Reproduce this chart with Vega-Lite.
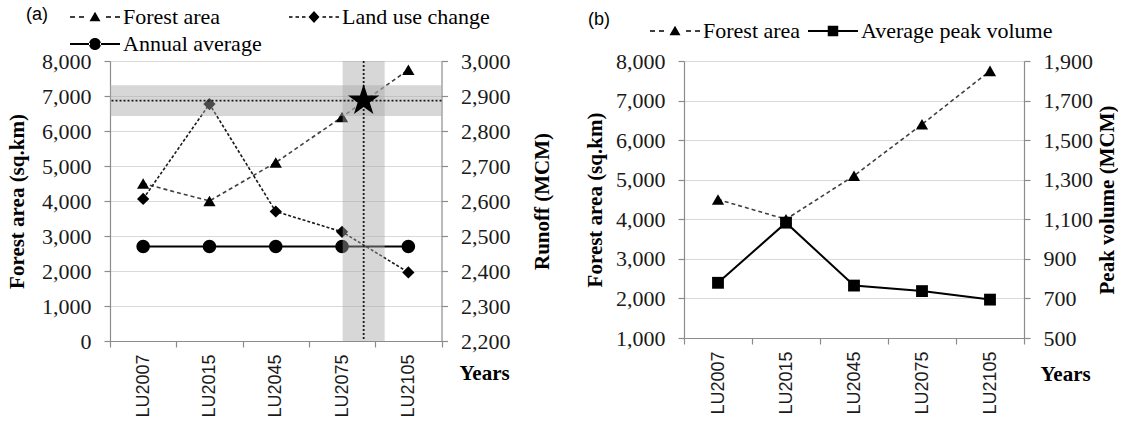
{
  "$schema": "https://vega.github.io/schema/vega-lite/v6.json",
  "padding": {"left": 6, "top": 6, "right": 0, "bottom": 0},
  "background": "white",
  "config": {
    "view": {"stroke": null},
    "font": "Liberation Serif",
    "axis": {
      "domainColor": "#8c8c8c", "tickColor": "#8c8c8c", "gridColor": "#d9d9d9",
      "labelColor": "#1a1a1a", "titleColor": "#000000",
      "labelFont": "Liberation Serif", "titleFont": "Liberation Serif", "titleFontWeight": "bold",
      "labelFontSize": 22, "titleFontSize": 21, "tickSize": 6, "domainWidth": 1.2, "tickWidth": 1.2,
      "labelOverlap": false
    }
  },
  "datasets": {
    "a": [
      {"year": "LU2007", "forest": 4500, "landuse": 2606, "annual": 2470},
      {"year": "LU2015", "forest": 4000, "landuse": 2877, "annual": 2470},
      {"year": "LU2045", "forest": 5100, "landuse": 2570, "annual": 2470},
      {"year": "LU2075", "forest": 6400, "landuse": 2512, "annual": 2470},
      {"year": "LU2105", "forest": 7750, "landuse": 2396, "annual": 2470}
    ],
    "thr": [{"year": "LU2075", "runoff": 2887, "low": 2843, "high": 2931}],
    "b": [
      {"year": "LU2007", "forest": 4500, "peak": 779},
      {"year": "LU2015", "forest": 4000, "peak": 1083},
      {"year": "LU2045", "forest": 5100, "peak": 765},
      {"year": "LU2075", "forest": 6400, "peak": 737},
      {"year": "LU2105", "forest": 7750, "peak": 694}
    ],
    "legA": [{"seriesA": "Forest area"}, {"seriesA": "Land use change"}, {"seriesA": "Annual average"}],
    "legB": [{"seriesB": "Forest area"}, {"seriesB": "Average peak volume"}]
  },
  "spacing": 32,
  "resolve": {"scale": {"shape": "independent"}, "legend": {"shape": "independent"}},
  "hconcat": [
    {
      "width": 331.5,
      "height": 280,
      "resolve": {"scale": {"y": "independent"}},
      "layer": [
        {
          "data": {"name": "a"},
          "layer": [
            {
              "mark": {"type": "line", "strokeDash": [4, 3], "color": "#404040", "strokeWidth": 1.6},
              "encoding": {
                "x": {"field": "year", "type": "nominal", "scale": {"type": "band", "paddingInner": 0, "paddingOuter": 0},
                  "axis": {"title": "Years", "tickBand": "extent", "labelAngle": 270, "labelFont": "Liberation Sans", "labelFontSize": 18, "labelPadding": 7, "titleX": 349, "titleY": 32, "titleAlign": "left", "titleBaseline": "middle", "titleAnchor": "start", "grid": false, "labelOverlap": false}},
                "y": {"field": "forest", "type": "quantitative", "title": "Forest area (sq.km)", "scale": {"domain": [0, 8000], "nice": false, "zero": false},
                  "axis": {"orient": "left", "values": [0, 1000, 2000, 3000, 4000, 5000, 6000, 7000, 8000], "tickCount": 30, "format": ",d", "grid": true, "labelPadding": 13, "titlePadding": 14, "labelOverlap": false}}
              }
            },
            {
              "mark": {"type": "point", "shape": "triangle-up", "filled": true, "color": "#000000", "size": 150, "opacity": 1},
              "encoding": {
                "x": {"field": "year", "type": "nominal"},
                "y": {"field": "forest", "type": "quantitative", "title": "Forest area (sq.km)", "scale": {"domain": [0, 8000], "nice": false, "zero": false}}
              }
            }
          ]
        },
        {
          "layer": [
            {
              "data": {"name": "a"},
              "mark": {"type": "line", "strokeDash": [3, 2], "color": "#1a1a1a", "strokeWidth": 1.6},
              "encoding": {
                "x": {"field": "year", "type": "nominal"},
                "y": {"field": "landuse", "type": "quantitative", "title": "Runoff (MCM)", "scale": {"domain": [2200, 3000], "nice": false, "zero": false},
                  "axis": {"orient": "right", "values": [2200, 2300, 2400, 2500, 2600, 2700, 2800, 2900, 3000], "tickCount": 30, "format": ",d", "grid": false, "labelPadding": 13, "titlePadding": 42, "titleAngle": 270, "labelOverlap": false}}
              }
            },
            {
              "data": {"name": "a"},
              "mark": {"type": "point", "shape": "diamond", "filled": true, "color": "#000000", "size": 150, "opacity": 1},
              "encoding": {
                "x": {"field": "year", "type": "nominal"},
                "y": {"field": "landuse", "type": "quantitative", "title": "Runoff (MCM)", "scale": {"domain": [2200, 3000], "nice": false, "zero": false}}
              }
            },
            {
              "data": {"name": "a"},
              "mark": {"type": "line", "color": "#000000", "strokeWidth": 2},
              "encoding": {
                "x": {"field": "year", "type": "nominal"},
                "y": {"field": "annual", "type": "quantitative", "title": "Runoff (MCM)", "scale": {"domain": [2200, 3000], "nice": false, "zero": false}}
              }
            },
            {
              "data": {"name": "a"},
              "mark": {"type": "point", "shape": "circle", "filled": true, "color": "#000000", "size": 185, "opacity": 1},
              "encoding": {
                "x": {"field": "year", "type": "nominal"},
                "y": {"field": "annual", "type": "quantitative", "title": "Runoff (MCM)", "scale": {"domain": [2200, 3000], "nice": false, "zero": false}}
              }
            },
            {
              "data": {"name": "thr"},
              "mark": {"type": "rect", "color": "#a6a6a6", "opacity": 0.45},
              "encoding": {
                "y": {"field": "low", "type": "quantitative", "title": "Runoff (MCM)", "scale": {"domain": [2200, 3000], "nice": false, "zero": false}},
                "y2": {"field": "high"}
              }
            },
            {
              "data": {"name": "thr"},
              "mark": {"type": "rule", "color": "#a6a6a6", "opacity": 0.45, "strokeWidth": 42, "strokeCap": "butt"},
              "encoding": {
                "x": {"field": "year", "type": "nominal", "bandPosition": 0.826}
              }
            },
            {
              "data": {"name": "thr"},
              "mark": {"type": "rule", "color": "#1a1a1a", "strokeWidth": 1.8, "strokeDash": [2, 2]},
              "encoding": {
                "y": {"field": "runoff", "type": "quantitative", "title": "Runoff (MCM)", "scale": {"domain": [2200, 3000], "nice": false, "zero": false}}
              }
            },
            {
              "data": {"name": "thr"},
              "mark": {"type": "rule", "color": "#1a1a1a", "strokeWidth": 1.8, "strokeDash": [2, 2]},
              "encoding": {
                "x": {"field": "year", "type": "nominal", "bandPosition": 0.826}
              }
            },
            {
              "data": {"name": "thr"},
              "mark": {"type": "point", "shape": "M0,-1L0.2245,-0.309L0.9511,-0.309L0.3633,0.118L0.5878,0.809L0,0.382L-0.5878,0.809L-0.3633,0.118L-0.9511,-0.309L-0.2245,-0.309Z", "filled": true, "color": "#000000", "size": 1100, "opacity": 1},
              "encoding": {
                "x": {"field": "year", "type": "nominal", "bandPosition": 0.826},
                "y": {"field": "runoff", "type": "quantitative", "title": "Runoff (MCM)", "scale": {"domain": [2200, 3000], "nice": false, "zero": false}}
              }
            },
            {
              "data": {"name": "legA"},
              "mark": {"type": "point", "filled": true, "opacity": 0, "color": "#000000", "size": 2500},
              "encoding": {
                "shape": {
                  "field": "seriesA", "type": "nominal",
                  "scale": {
                    "domain": ["Forest area", "Land use change", "Annual average"],
                    "range": [
                      "M-1,-0.03H-0.8V0.03H-1ZM-0.64,-0.03H-0.44V0.03H-0.64ZM0.44,-0.03H0.64V0.03H0.44ZM0.8,-0.03H1V0.03H0.8ZM0,-0.21L0.22,0.17L-0.22,0.17Z",
                      "M-1,-0.03H-0.86V0.03H-1ZM-0.74,-0.03H-0.6V0.03H-0.74ZM-0.48,-0.03H-0.34V0.03H-0.48ZM0.34,-0.03H0.48V0.03H0.34ZM0.6,-0.03H0.74V0.03H0.6ZM0.86,-0.03H1V0.03H0.86ZM0,-0.24L0.22,0L0,0.24L-0.22,0Z",
                      "M-1,-0.04H-0.2V0.04H-1ZM0.2,-0.04H1V0.04H0.2ZM-0.24,0A0.24,0.24,0,1,0,0.24,0A0.24,0.24,0,1,0,-0.24,0Z"
                    ]
                  },
                  "legend": {
                    "orient": "none", "legendX": -84, "legendY": -55, "direction": "horizontal",
                    "title": "(a)", "titleOrient": "left", "titleAnchor": "start", "titleFont": "Liberation Sans", "titleFontSize": 18, "titleFontWeight": "normal", "titleColor": "#000000", "titlePadding": 22, "titleBaseline": "top",
                    "columns": 2, "columnPadding": 27, "rowPadding": 5,
                    "symbolSize": 2500, "symbolStrokeWidth": 0, "symbolFillColor": "#000000", "symbolOpacity": 1,
                    "clipHeight": 22,
                    "labelFont": "Liberation Serif", "labelFontSize": 22, "labelColor": "#000000", "labelOffset": 3, "labelLimit": 300
                  }
                }
              }
            }
          ]
        }
      ]
    },
    {
      "width": 340,
      "height": 277,
      "resolve": {"scale": {"y": "independent"}},
      "layer": [
        {
          "data": {"name": "b"},
          "layer": [
            {
              "mark": {"type": "line", "strokeDash": [4, 3], "color": "#404040", "strokeWidth": 1.6},
              "encoding": {
                "x": {"field": "year", "type": "nominal", "scale": {"type": "band", "paddingInner": 0, "paddingOuter": 0},
                  "axis": {"title": "Years", "tickBand": "extent", "labelAngle": 270, "labelFont": "Liberation Sans", "labelFontSize": 18, "labelPadding": 7, "titleX": 356, "titleY": 36, "titleAlign": "left", "titleBaseline": "middle", "titleAnchor": "start", "grid": false, "labelOverlap": false}},
                "y": {"field": "forest", "type": "quantitative", "title": "Forest area (sq.km)", "scale": {"domain": [1000, 8000], "nice": false, "zero": false},
                  "axis": {"orient": "left", "values": [1000, 2000, 3000, 4000, 5000, 6000, 7000, 8000], "tickCount": 30, "format": ",d", "grid": true, "labelPadding": 13, "titlePadding": 10, "labelOverlap": false}}
              }
            },
            {
              "mark": {"type": "point", "shape": "triangle-up", "filled": true, "color": "#000000", "size": 150, "opacity": 1},
              "encoding": {
                "x": {"field": "year", "type": "nominal"},
                "y": {"field": "forest", "type": "quantitative", "title": "Forest area (sq.km)", "scale": {"domain": [1000, 8000], "nice": false, "zero": false}}
              }
            }
          ]
        },
        {
          "layer": [
            {
              "data": {"name": "b"},
              "mark": {"type": "line", "color": "#000000", "strokeWidth": 2},
              "encoding": {
                "x": {"field": "year", "type": "nominal"},
                "y": {"field": "peak", "type": "quantitative", "title": "Peak volume (MCM)", "scale": {"domain": [500, 1900], "nice": false, "zero": false},
                  "axis": {"orient": "right", "values": [500, 700, 900, 1100, 1300, 1500, 1700, 1900], "tickCount": 30, "format": ",d", "grid": false, "labelPadding": 13, "titlePadding": 25, "titleAngle": 270, "labelOverlap": false}}
              }
            },
            {
              "data": {"name": "b"},
              "mark": {"type": "point", "shape": "square", "filled": true, "color": "#000000", "size": 140, "opacity": 1},
              "encoding": {
                "x": {"field": "year", "type": "nominal"},
                "y": {"field": "peak", "type": "quantitative", "title": "Peak volume (MCM)", "scale": {"domain": [500, 1900], "nice": false, "zero": false}}
              }
            },
            {
              "data": {"name": "legB"},
              "mark": {"type": "point", "filled": true, "opacity": 0, "color": "#000000", "size": 2500},
              "encoding": {
                "shape": {
                  "field": "seriesB", "type": "nominal",
                  "scale": {
                    "domain": ["Forest area", "Average peak volume"],
                    "range": [
                      "M-1,-0.03H-0.8V0.03H-1ZM-0.64,-0.03H-0.44V0.03H-0.64ZM0.44,-0.03H0.64V0.03H0.44ZM0.8,-0.03H1V0.03H0.8ZM0,-0.21L0.22,0.17L-0.22,0.17Z",
                      "M-1,-0.04H-0.2V0.04H-1ZM0.2,-0.04H1V0.04H0.2ZM-0.21,-0.21H0.21V0.21H-0.21Z"
                    ]
                  },
                  "legend": {
                    "orient": "none", "legendX": -96, "legendY": -41, "direction": "horizontal",
                    "title": "(b)", "titleOrient": "left", "titleAnchor": "start", "titleFont": "Liberation Sans", "titleFontSize": 18, "titleFontWeight": "normal", "titleColor": "#000000", "titlePadding": 40, "titleBaseline": "middle",
                    "columns": 2, "columnPadding": 7, "rowPadding": 5,
                    "symbolSize": 2500, "symbolStrokeWidth": 0, "symbolFillColor": "#000000", "symbolOpacity": 1,
                    "clipHeight": 22,
                    "labelFont": "Liberation Serif", "labelFontSize": 22, "labelColor": "#000000", "labelOffset": 3, "labelLimit": 300
                  }
                }
              }
            }
          ]
        }
      ]
    }
  ]
}
